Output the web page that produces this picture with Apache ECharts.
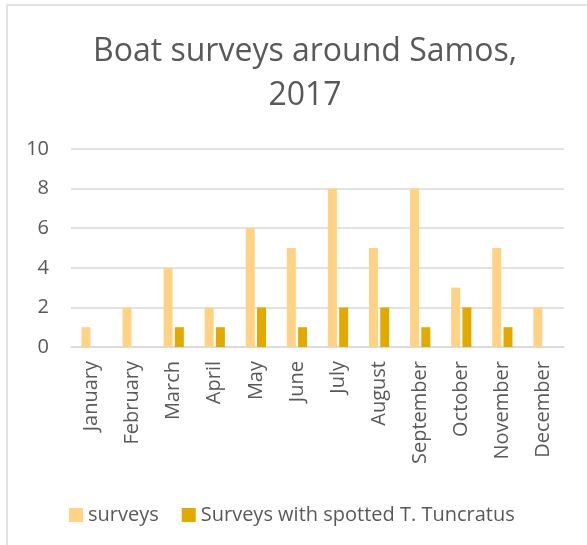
<!DOCTYPE html>
<html>
<head>
    <meta charset="utf-8">
    <title>Boat surveys around Samos</title>
    <script src="https://cdn.jsdelivr.net/npm/echarts@6/dist/echarts.min.js"></script>
    <style>
        html,body{
            height:100%;
            width:100%;
            margin:0;
            padding:0;
            background:#fff;
        }
        #chart{
            width:587px;
            height:545px;
        }
    </style>
</head>
<body>
<div id="chart"></div>
<script>
    // months
    var months = ['January','February','March','April','May','June','July','August','September','October','November','December'];
    // all surveys
    var surveys = [1, 2, 4, 2, 6, 5, 8, 5, 8, 3, 5, 2];
    // surveys where T. truncatus was spotted
    var spotted = [0, 0, 1, 1, 2, 1, 2, 2, 1, 2, 1, 0];

    var font = '"Open Sans", "Noto Sans", sans-serif';
    var grey = '#595959';

    var myChart = echarts.init(document.getElementById('chart'));
    var option = {
        animation:false,
        textStyle:{ fontFamily:font },
        title:{
            text:'Boat surveys around Samos,\n2017',
            left:300,
            top:25,
            textAlign:'center',
            textStyle:{
                fontSize:32,
                fontWeight:'normal',
                color:grey,
                lineHeight:44,
                fontFamily:font
            }
        },
        // frame of the chart box
        graphic:[{
            type:'rect',
            shape:{ x:7, y:5, width:700, height:700 },
            style:{ fill:'none', stroke:'#d9d9d9', lineWidth:1.5 },
            silent:true
        }],
        legend:{
            data:['surveys','Surveys with spotted T. Tuncratus'],
            left:64,
            top:500,
            icon:'rect',
            itemWidth:14,
            itemHeight:14,
            itemGap:23,
            textStyle:{ fontSize:20, color:grey, fontFamily:font }
        },
        grid:{
            left:71,
            right:23,
            top:149,
            bottom:198
        },
        xAxis:{
            type:'category',
            data:months,
            axisLine:{ show:true, lineStyle:{ color:'#d9d9d9', width:1.5 } },
            axisTick:{ show:false },
            axisLabel:{
                rotate:90,
                margin:14,
                fontSize:20,
                color:grey,
                interval:0
            }
        },
        yAxis:{
            type:'value',
            min:0,
            max:10,
            interval:2,
            axisLine:{ show:false },
            axisTick:{ show:false },
            axisLabel:{ fontSize:20, color:grey, margin:22 },
            splitLine:{ lineStyle:{ color:'#d9d9d9', width:1.5 } }
        },
        series:[
            {
                name:'surveys',
                type:'bar',
                data:surveys,
                barWidth:9,
                barGap:'25%',
                itemStyle:{ color:'#FFD285' }
            },
            {
                name:'Surveys with spotted T. Tuncratus',
                type:'bar',
                data:spotted,
                barWidth:9,
                itemStyle:{ color:'#E2AA00' }
            }
        ]
    };
    myChart.setOption(option);
</script>
</body>
</html>
